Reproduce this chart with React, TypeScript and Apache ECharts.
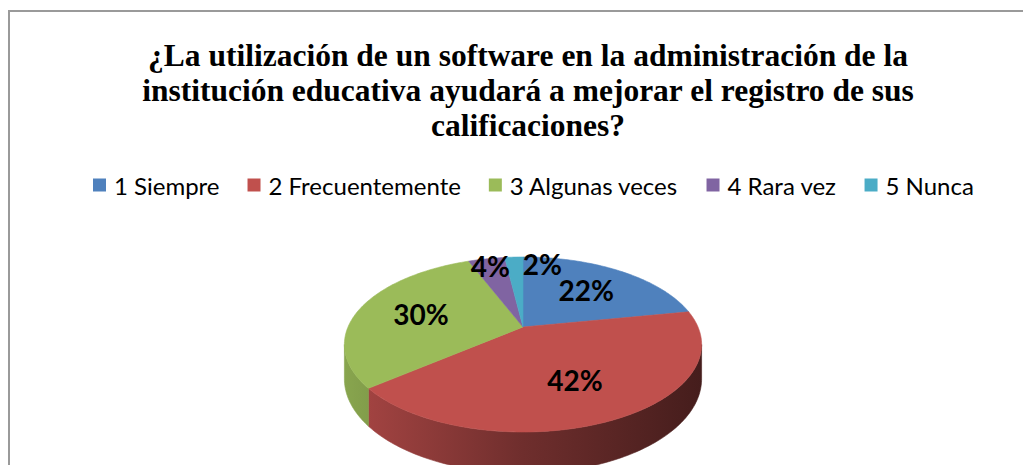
import React, { useEffect, useRef } from "react";
import * as echarts from "echarts";

const titleLines = [
  "¿La utilización de un software en la administración de la",
  "institución educativa ayudará a mejorar el registro de sus",
  "calificaciones?",
];
const categories = ["1 Siempre", "2 Frecuentemente", "3 Algunas veces", "4 Rara vez", "5 Nunca"];
const percentages = [22, 42, 30, 4, 2];
const colors = ["#4F81BD", "#C0504D", "#9BBB59", "#8064A2", "#4BACC6"];

// geometry of the pseudo-3D pie (style, not data)
const CX = 523;
const CY = 327;
const RX = 175;
const RY = 84;
const PERSP = 5;
const DEPTH = 33;
const LABEL_FONT = 28;

const total = percentages.reduce((a, b) => a + b, 0);
const startAngles: number[] = [];
{
  let acc = 0;
  for (const v of percentages) {
    startAngles.push((acc / total) * 360);
    acc += v;
  }
}

function proj(deg: number, k: number, dz: number): [number, number] {
  const t = (deg * Math.PI) / 180;
  const u = Math.sin(t) * k;
  const v = -Math.cos(t) * k;
  const p = PERSP / (PERSP - v);
  return [CX + RX * u * p, CY + RY * v * p + dz * p];
}

function shade(hex: string, f: number): string {
  const n = parseInt(hex.slice(1), 16);
  const r = Math.round(((n >> 16) & 255) * f);
  const g = Math.round(((n >> 8) & 255) * f);
  const b = Math.round((n & 255) * f);
  return `rgb(${r},${g},${b})`;
}

function textWidth(s: string): number {
  let w = 0;
  for (const ch of s) w += ch === "%" ? 0.85 : 0.58;
  return w * LABEL_FONT;
}

// label positions (computed from the data, with simple overlap avoidance)
const labelPos: [number, number][] = [];
{
  const boxes: { l: number; r: number; t: number; b: number }[] = [];
  percentages.forEach((v, i) => {
    const a0 = startAngles[i];
    const a1 = a0 + (v / total) * 360;
    const mid = (a0 + a1) / 2;
    const k = v < 5 ? 0.88 : 0.62;
    let [x, y] = proj(mid, k, 0);
    const txt = v + "%";
    const w = textWidth(txt);
    const hgt = LABEL_FONT * 0.8;
    for (const bx of boxes) {
      const l = x - w / 2, r = x + w / 2, t = y - hgt / 2, b = y + hgt / 2;
      if (l < bx.r && r > bx.l && t < bx.b && b > bx.t) {
        x = bx.r + 12 + w / 2;
      }
    }
    boxes.push({ l: x - w / 2, r: x + w / 2, t: y - hgt / 2, b: y + hgt / 2 });
    labelPos.push([x, y]);
  });
}

const SIDE_A = (Math.acos(-1 / PERSP) * 180) / Math.PI;
const SIDE_B = 360 - SIDE_A;

function buildSlice(i: number, value: number) {
  const a0 = startAngles[i];
  const a1 = a0 + (value / total) * 360;
  const color = colors[i];
  const children: any[] = [];

  // side wall
  const s0 = Math.max(a0, SIDE_A);
  const s1 = Math.min(a1, SIDE_B);
  if (s0 < s1) {
    const pts: [number, number][] = [];
    const steps = Math.max(2, Math.ceil(s1 - s0));
    for (let j = 0; j <= steps; j++) pts.push(proj(s0 + ((s1 - s0) * j) / steps, 1, 0));
    for (let j = steps; j >= 0; j--) pts.push(proj(s0 + ((s1 - s0) * j) / steps, 1, DEPTH));
    const grad = {
      type: "linear",
      x: CX - RX * 1.02,
      y: 0,
      x2: CX + RX * 1.02,
      y2: 0,
      global: true,
      colorStops: [
        { offset: 0, color: shade(color, 0.88) },
        { offset: 0.5, color: shade(color, 0.58) },
        { offset: 1, color: shade(color, 0.36) },
      ],
    };
    children.push({
      type: "polygon",
      shape: { points: pts },
      style: { fill: grad, stroke: grad, lineWidth: 0.6 },
      z2: 1,
    });
  }

  // top face
  const top: [number, number][] = [[CX, CY]];
  const steps = Math.max(2, Math.ceil(a1 - a0));
  for (let j = 0; j <= steps; j++) top.push(proj(a0 + ((a1 - a0) * j) / steps, 1, 0));
  children.push({
    type: "polygon",
    shape: { points: top },
    style: { fill: color, stroke: color, lineWidth: 0.6, lineJoin: "round" },
    z2: 10,
  });

  // label
  const [lx, ly] = labelPos[i];
  children.push({
    type: "text",
    x: lx,
    y: ly,
    style: {
      text: value + "%",
      fill: "#000",
      fontSize: LABEL_FONT,
      fontWeight: "bold",
      fontFamily: "Lato",
      align: "center",
      verticalAlign: "middle",
      textAlign: "center",
      textVerticalAlign: "middle",
    },
    z2: 20,
  });

  return { type: "group", children };
}

export default function App() {
  const ref = useRef<HTMLDivElement>(null);

  useEffect(() => {
    if (!ref.current) return;
    const chart = echarts.init(ref.current, undefined, { renderer: "svg" });
    chart.setOption({
      animation: false,
      backgroundColor: "#ffffff",
      title: {
        text: titleLines.join("\n"),
        left: 523,
        top: 33,
        textAlign: "center",
        textStyle: {
          fontFamily: "Liberation Serif",
          fontWeight: "bold",
          fontSize: 31.5,
          lineHeight: 35,
          color: "#000",
        },
      },
      legend: {
        data: categories,
        left: 88,
        top: 168,
        icon: "rect",
        itemWidth: 13,
        itemHeight: 13,
        itemGap: 28,
        selectedMode: false,
        textStyle: {
          fontFamily: "Lato",
          fontSize: 24,
          color: "#000",
          padding: [0, 0, 0, 3],
        },
      },
      graphic: [
        {
          type: "rect",
          shape: { x: 9, y: 11, width: 1100, height: 600 },
          style: { fill: "transparent", stroke: "#9a9a9a", lineWidth: 2 },
          silent: true,
          z: -1,
        },
      ],
      series: categories.map((name, i) => ({
        type: "custom",
        name,
        coordinateSystem: "none",
        silent: true,
        itemStyle: { color: colors[i] },
        data: [percentages[i]],
        renderItem: (_params: any, api: any) => buildSlice(i, api.value(0)),
      })),
    });
    return () => chart.dispose();
  }, []);

  return (
    <div
      ref={ref}
      style={{ position: "absolute", left: 0, top: 0, width: 1023, height: 465, background: "#fff" }}
    />
  );
}
